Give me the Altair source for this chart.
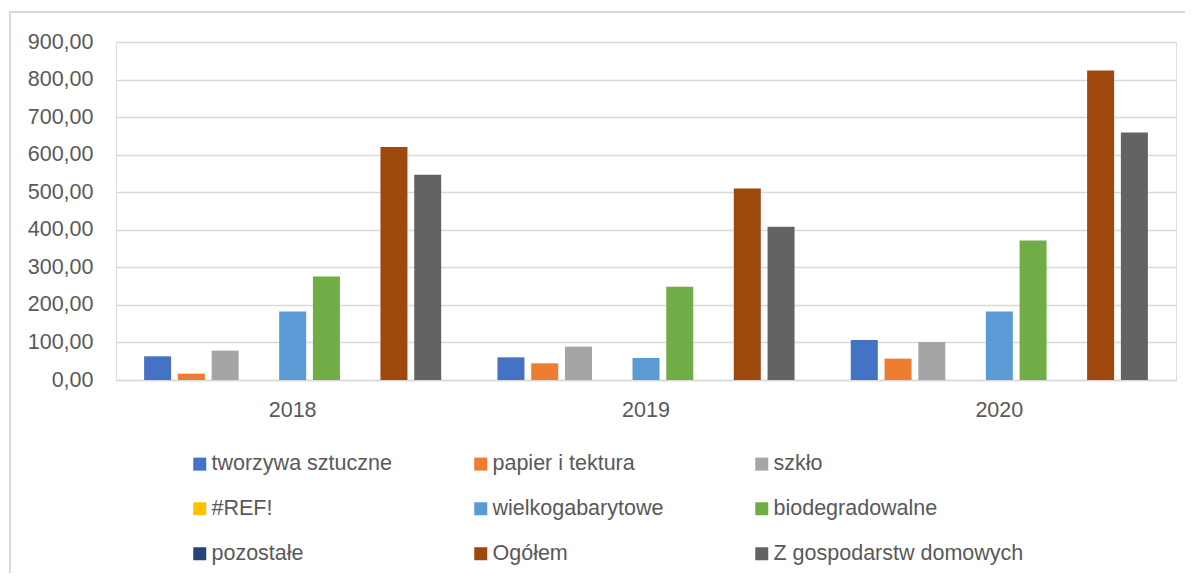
import altair as alt
import pandas as pd

years = ["2018", "2019", "2020"]
series = ["tworzywa sztuczne", "papier i tektura", "szkło", "#REF!",
          "wielkogabarytowe", "biodegradowalne", "pozostałe", "Ogółem",
          "Z gospodarstw domowych"]
colors = ["#4472C4", "#ED7D31", "#A5A5A5", "#FFC000", "#5B9BD5",
          "#70AD47", "#264478", "#9E480E", "#636363"]

tworzywa = [63.1, 60.4, 106.7]
papier = [16.9, 44.4, 56.9]
szklo = [78.2, 88.9, 101.3]
ref = [0.0, 0.0, 0.0]
wielko = [182.2, 58.7, 182.2]
bio = [275.6, 248.0, 371.6]
pozostale = [0.0, 0.0, 0.0]
ogolem = [620.4, 510.2, 824.0]
gosp = [546.7, 408.0, 658.7]

all_vals = [tworzywa, papier, szklo, ref, wielko, bio, pozostale, ogolem, gosp]
rows = []
for s, vals in zip(series, all_vals):
    for y, v in zip(years, vals):
        rows.append({"rok": y, "seria": s, "wartosc": v})
df = pd.DataFrame(rows)

FONT = "Liberation Sans"
TXT = "#595959"
GRID = "#D9D9D9"

bars = alt.Chart(df).mark_bar().encode(
    x=alt.X("rok:N", sort=years, title=None,
            scale=alt.Scale(paddingInner=0.14, paddingOuter=0.07),
            axis=alt.Axis(labelAngle=0, labelFontSize=21.5, labelColor=TXT,
                          labelFont=FONT, labelPadding=19, ticks=False,
                          domainColor=GRID, domainWidth=1.3, grid=False)),
    xOffset=alt.XOffset("seria:N", sort=series,
                        scale=alt.Scale(paddingInner=0.2, paddingOuter=0.1)),
    y=alt.Y("wartosc:Q", title=None,
            scale=alt.Scale(domain=[0, 900], nice=False),
            axis=alt.Axis(values=list(range(0, 901, 100)), labelFontSize=21.5,
                          labelColor=TXT, labelFont=FONT, labelPadding=23,
                          ticks=False, domain=False, gridColor=GRID, gridWidth=1.3,
                          labelExpr="replace(format(datum.value, '.2f'), '.', ',')")),
    color=alt.Color("seria:N", sort=series, title=None,
                    scale=alt.Scale(domain=series, range=colors),
                    legend=alt.Legend(orient="none", legendX=73, legendY=411,
                                      columns=3, gridAlign="all", direction="horizontal",
                                      columnPadding=8, rowPadding=22,
                                      symbolType="square", symbolSize=169,
                                      symbolStrokeWidth=0, labelOffset=1,
                                      labelFontSize=21.5, labelFont=FONT,
                                      labelColor=TXT, labelLimit=400)),
)

frame = alt.Chart(df).mark_rect(fill=None, stroke=GRID, strokeWidth=1.3).encode(
    x=alt.value(-106), x2=alt.value(1100), y=alt.value(-30), y2=alt.value(620)
)

chart = alt.layer(frame, bars).properties(
    width=1060, height=338,
    autosize=alt.AutoSizeParams(type="none"),
    padding={"left": 108, "top": 34, "right": 9, "bottom": 193},
).configure_view(stroke=None).configure(font=FONT, background="white")

chart.save("out.html", embed_options={"renderer": "svg", "actions": False})
